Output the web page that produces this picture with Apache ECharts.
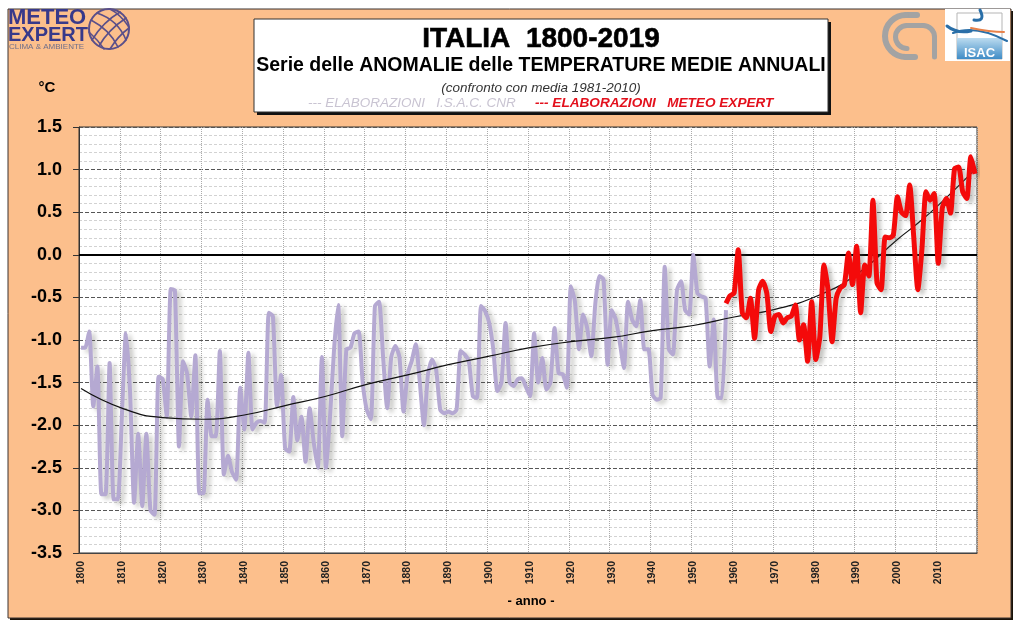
<!DOCTYPE html>
<html><head><meta charset="utf-8">
<style>html,body{margin:0;padding:0;background:#fff}#c{width:1021px;height:626px}</style>
<script src="https://cdn.jsdelivr.net/npm/echarts@6/dist/echarts.min.js"></script>
</head><body><div id="c"></div>
<script>
const firstYear = 1800, lastYear = 2019;
const isacStartYear = 1800;
const isacValues = [
-1.09,-1.09,-0.9,-1.78,-1.31,-2.81,-2.81,-1.27,-2.87,-2.87,
-1.9,-0.92,-1.6,-2.91,-2.1,-2.95,-2.1,-3.0,-3.05,-1.43,
-1.46,-1.9,-0.4,-0.42,-2.25,-1.25,-1.4,-1.9,-1.18,-2.8,
-2.8,-1.7,-2.13,-2.13,-1.13,-2.58,-2.36,-2.55,-2.64,-1.56,
-2.05,-1.15,-2.05,-1.97,-1.95,-1.97,-0.68,-0.72,-1.78,-1.41,
-2.27,-2.31,-1.67,-2.18,-1.9,-2.43,-1.8,-2.2,-2.5,-1.2,
-2.5,-1.9,-1.1,-0.59,-2.13,-1.11,-1.09,-0.92,-0.9,-1.5,
-1.82,-1.93,-0.6,-0.55,-1.2,-1.8,-1.2,-1.07,-1.2,-1.84,
-1.4,-1.25,-1.05,-1.5,-2.0,-1.4,-1.23,-1.35,-1.82,-1.86,
-1.84,-1.86,-1.82,-1.13,-1.17,-1.25,-1.66,-1.68,-0.6,-0.66,
-0.8,-1.11,-1.6,-1.5,-0.8,-1.5,-1.54,-1.46,-1.45,-1.55,
-1.66,-0.92,-1.5,-1.21,-1.58,-1.5,-0.86,-1.39,-1.4,-1.56,
-0.37,-0.55,-1.11,-0.7,-0.86,-1.19,-0.57,-0.25,-0.29,-1.29,
-0.65,-0.76,-1.03,-1.33,-0.55,-0.76,-0.84,-0.53,-1.11,-1.11,
-1.64,-1.7,-1.68,-0.14,-1.11,-1.17,-0.41,-0.31,-0.65,-0.7,
0.0,-0.45,-0.49,-0.51,-1.31,-0.76,-1.68,-1.68,-0.65];
const meteoStartYear = 1958;
const meteoValues = [
-0.57,-0.48,
-0.45,0.06,-0.68,-0.74,-0.51,-0.98,-0.41,-0.31,-0.45,-0.9,
-0.72,-0.7,-0.8,-0.74,-0.72,-0.59,-1.0,-0.82,-1.25,-0.55,
-1.23,-0.96,-0.12,-0.41,-1.02,-0.51,-0.39,-0.35,0.02,-0.35,
0.1,-0.68,-0.12,-0.25,0.64,-0.33,-0.41,0.21,0.2,0.23,
0.68,0.5,0.46,0.82,0.21,-0.41,0.06,0.74,0.64,0.72,
-0.1,0.55,0.66,0.49,1.01,1.03,0.74,0.66,1.15,0.95];
const trendYears = [1800,1810,1820,1830,1840,1850,1860,1870,1880,1890,1900,1910,1920,1930,1940,1950,1960,1970,1980,1990,2000,2005,2010,2019];
const trendValues = [-1.57,-1.8,-1.91,-1.93,-1.88,-1.77,-1.66,-1.52,-1.41,-1.29,-1.19,-1.09,-1.02,-0.97,-0.89,-0.83,-0.73,-0.64,-0.49,-0.23,0.18,0.37,0.58,1.0];
const yTickLabels = ['-3.5','-3.0','-2.5','-2.0','-1.5','-1.0','-0.5','0.0','0.5','1.0','1.5'];

const categories = [];
for (let y = firstYear; y <= lastYear; y++) categories.push(String(y));
const isacSeries = categories.map((_, i) => { const v = isacValues[i + firstYear - isacStartYear]; return v === undefined ? null : v; });
const meteoSeries = categories.map((c) => { const v = meteoValues[+c - meteoStartYear]; return v === undefined ? null : v; });
const trendSeries = trendYears.map((y, i) => [String(y), trendValues[i]]);

const FONT = '"Liberation Sans", Arial, sans-serif';
const txt = (x, y, text, o) => ({ type: 'text', x, y, z: 20, style: Object.assign({ text, font: 'bold 14px ' + FONT, fill: '#000', verticalAlign: 'middle' }, o) });
const lineStyleOf = (color, w) => ({ fill: 'none', stroke: color, lineWidth: w, lineCap: 'round' });
const curve = (x1, y1, cx, cy, x2, y2, color, w) => ({ type: 'bezierCurve', z: 20, shape: { x1, y1, cpx1: cx, cpy1: cy, x2, y2 }, style: lineStyleOf(color, w) });
const seg = (x1, y1, x2, y2, color, w) => ({ type: 'line', z: 20, shape: { x1, y1, x2, y2 }, style: lineStyleOf(color, w) });
const arc = (cx, cy, r, a0, a1, color, w) => ({ type: 'arc', z: 20, shape: { cx, cy, r, startAngle: a0 * Math.PI / 180, endAngle: a1 * Math.PI / 180, clockwise: true }, style: lineStyleOf(color, w) });
const rect = (x, y, w, h, fill, z, extra) => ({ type: 'rect', z, shape: { x, y, width: w, height: h }, style: Object.assign({ fill }, extra) });
const GL = '#5a4f8a', CN = '#a3a3a3';

const graphics = [
  rect(10, 11, 1003, 609, '#1a1208', -30),
  rect(8, 9, 1003, 609, '#FCBF8C', -20, { stroke: '#3a3230', lineWidth: 1 }),
  rect(257, 22, 574, 93, '#111', 5),
  rect(254, 19, 574, 93, '#fff', 6, { stroke: '#333', lineWidth: 1 }),
  txt(541, 39, 'ITALIA  1800-2019', { font: 'bold 28px ' + FONT, textAlign: 'center', stroke: '#000', lineWidth: 0.6 }),
  txt(541, 66, 'Serie delle ANOMALIE delle TEMPERATURE MEDIE ANNUALI', { font: 'bold 19.5px ' + FONT, textAlign: 'center' }),
  txt(541, 88, '(confronto con media 1981-2010)', { font: 'italic 13.5px ' + FONT, textAlign: 'center', fill: '#333' }),
  txt(308, 103, '--- ELABORAZIONI   I.S.A.C. CNR', { font: 'italic 13.5px ' + FONT, fill: '#c9c4d2' }),
  txt(535, 103, '--- ELABORAZIONI   METEO EXPERT', { font: 'italic bold 13.6px ' + FONT, fill: '#e3101c' }),
  txt(47, 88, '°C', { font: 'bold 15px ' + FONT, textAlign: 'center' }),
  txt(531, 601, '- anno -', { font: 'bold 13px ' + FONT, textAlign: 'center' }),
  // METEO EXPERT logo
  txt(8, 18, 'METEO', { font: 'bold 22px ' + FONT, fill: '#38398a' }),
  txt(8, 35, 'EXPERT', { font: 'bold 20px ' + FONT, fill: '#38398a' }),
  txt(9, 47, 'CLIMA & AMBIENTE', { font: '8px ' + FONT, fill: '#6f6f8a' }),
  { type: 'circle', z: 20, shape: { cx: 109, cy: 29, r: 20 }, style: { fill: 'none', stroke: GL, lineWidth: 2 } },
  curve(97, 13, 118, 20, 126, 40, GL, 1.6),
  curve(91, 20, 110, 30, 118, 47, GL, 1.6),
  curve(89, 32, 98, 40, 104, 49, GL, 1.6),
  curve(110, 9, 120, 14, 129, 27, GL, 1.6),
  curve(120, 12, 103, 22, 92, 40, GL, 1.6),
  curve(126, 18, 108, 30, 99, 46, GL, 1.6),
  curve(129, 28, 118, 36, 110, 49, GL, 1.6),
  // CNR logo
  seg(917, 15, 906, 15, CN, 6),
  arc(906, 36, 21, 90, 270, CN, 6),
  seg(906, 57, 915, 57, CN, 6),
  arc(907, 37, 11.5, 90, 270, CN, 5),
  seg(907, 25.5, 923, 25.5, CN, 5),
  arc(923, 37, 11.5, 270, 360, CN, 5),
  seg(934.5, 37, 934.5, 57, CN, 5),
  // ISAC logo
  rect(945, 9, 65, 52, '#fff', 15),
  rect(957, 13, 45, 46, 'rgba(0,0,0,0)', 16, { stroke: '#b5b5b5', lineWidth: 1 }),
  { type: 'rect', z: 16, shape: { x: 957, y: 38, width: 45, height: 21 }, style: { fill: { type: 'linear', x: 0, y: 0, x2: 0, y2: 1, colorStops: [{ offset: 0, color: '#bcdcf0' }, { offset: 1, color: '#3f8cc6' }] } } },
  txt(979.5, 53, 'ISAC', { font: 'bold 13px ' + FONT, fill: '#fff', textAlign: 'center' }),
  curve(947, 26, 957, 34, 971, 31, '#2a6fa8', 3),
  curve(953, 33, 975, 24, 1007, 41, '#2a6fa8', 2),
  curve(971, 28, 990, 32, 1004, 32, '#e8824a', 2),
  curve(980, 10, 986, 22, 974, 20, '#2a6fa8', 3)
];

const chart = echarts.init(document.getElementById('c'), null, { renderer: 'canvas' });
chart.setOption({
  animation: false,
  backgroundColor: '#fff',
  textStyle: { fontFamily: FONT },
  graphic: { elements: graphics },
  grid: { left: 79, right: 44, top: 127, bottom: 73, show: true, backgroundColor: '#fff', borderColor: '#333', borderWidth: 1 },
  xAxis: {
    type: 'category', data: categories, boundaryGap: true,
    axisLine: { onZero: false, lineStyle: { color: '#444' } },
    axisTick: { show: false },
    axisLabel: { interval: 9, rotate: 90, margin: 8, fontSize: 10.5, fontWeight: 'bold', color: '#222', fontFamily: FONT },
    splitLine: { show: true, interval: 9, lineStyle: { color: '#aaa', type: 'dotted', width: 1 } }
  },
  yAxis: {
    type: 'value', min: -3.5, max: 1.5, interval: 0.5,
    axisLine: { show: true, lineStyle: { color: '#333' } },
    axisTick: { show: true, length: 6, lineStyle: { color: '#333' } },
    axisLabel: { margin: 17, fontSize: 18, fontWeight: 'bold', color: '#000', fontFamily: FONT,
      formatter: (v) => yTickLabels[Math.round((v + 3.5) * 2)] },
    splitLine: { show: true, lineStyle: { color: '#555', type: [4, 2], width: 1 } },
    minorTick: { show: false, splitNumber: 5 },
    minorSplitLine: { show: true, lineStyle: { color: '#d2d2d2', type: [3, 2], width: 1 } }
  },
  series: [
    { name: 'I.S.A.C. CNR', type: 'line', data: isacSeries, z: 3, showSymbol: false, smooth: 0.2, connectNulls: false,
      lineStyle: { color: '#b5a9d2', width: 4, join: 'round', shadowColor: 'rgba(90,90,80,0.3)', shadowBlur: 4, shadowOffsetX: 4, shadowOffsetY: 3 },
      markLine: { silent: true, symbol: 'none', label: { show: false }, data: [{ yAxis: 0 }], lineStyle: { color: '#000', width: 2, type: 'solid' }, z: 2 } },
    { name: 'Tendenza', type: 'line', data: trendSeries, z: 4, showSymbol: false, smooth: 0.5,
      lineStyle: { color: '#111', width: 1.2 } },
    { name: 'METEO EXPERT', type: 'line', data: meteoSeries, z: 5, showSymbol: false, smooth: 0.2,
      lineStyle: { color: '#f40a0a', width: 5, join: 'round', shadowColor: 'rgba(90,90,80,0.35)', shadowBlur: 4, shadowOffsetX: 4, shadowOffsetY: 3 } }
  ]
});
</script></body></html>
